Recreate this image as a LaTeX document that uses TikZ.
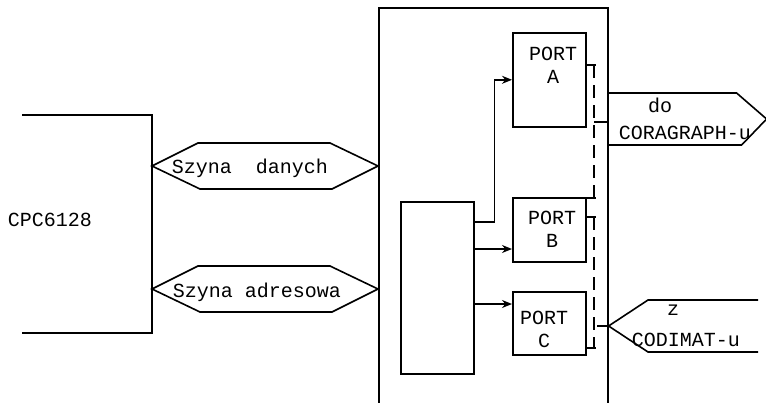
\documentclass[tikz,border=0pt]{standalone}
\usepackage{fontspec}
\setmonofont{Liberation Mono}
\usetikzlibrary{arrows.meta,positioning}
\tikzset{
    unitbox/.style={rectangle,draw,line width=1.6pt,inner sep=0pt},
    porttext/.style={font=\ttfamily\fontsize{20}{23}\selectfont,align=center,inner sep=0pt},
    labeltext/.style={font=\ttfamily\fontsize{20}{23}\selectfont,inner sep=0pt},
    busline/.style={line width=1.6pt,line join=miter},
    portline/.style={-{Stealth[length=10pt,width=8pt]},line width=1.6pt},
    tieline/.style={line width=1.6pt},
    tiedash/.style={line width=1.6pt,dash pattern=on 13pt off 7pt}
}

\begin{document}
\begin{tikzpicture}[x=1pt,y=-1pt]
    \useasboundingbox (0,0) rectangle (766,402);
    % komputer
    \coordinate (cpcNW) at (22,115);
    \coordinate (cpcNE) at (152,115);
    \coordinate (cpcSE) at (152,333);
    \coordinate (cpcSW) at (22,333);
    \draw[tieline] (cpcNW) -- (cpcNE) -- (cpcSE) -- (cpcSW);
    \node[labeltext] (cpc) at (50,220) {CPC6128};
    % uklad wejscia/wyjscia
    \node[unitbox,anchor=north west,minimum width=229pt,minimum height=420pt] (iface) at (378,7) {};
    \node[unitbox,anchor=north west,minimum width=73pt,minimum height=172pt] (ctrl) at (400,201) {};
    \node[unitbox,anchor=north west,minimum width=73pt,minimum height=94pt] (portA) at (512,32) {};
    \node[unitbox,anchor=north west,minimum width=73pt,minimum height=64pt] (portB) at (512,197) {};
    \node[unitbox,anchor=north west,minimum width=73pt,minimum height=63pt] (portC) at (512,291) {};
    \node[porttext] (portAtext) at (553,65) {PORT\\A};
    \node[porttext] (portBtext) at (552,229) {PORT\\B};
    \node[porttext] (portCtext) at (544,329) {PORT\\C};
    % szyny
    \draw[busline] (cpcSE |- 0,166) -- ++(46,-23) -- ++(132,0) -- (iface.west |- 0,166) -- ++(-46,23) -- ++(-132,0) -- cycle;
    \draw[busline] (cpcSE |- 0,289) -- ++(46,-23) -- ++(132,0) -- (iface.west |- 0,289) -- ++(-46,23) -- ++(-132,0) -- cycle;
    \node[labeltext] (dbus) at (250,168) {Szyna\ \ danych};
    \node[labeltext] (abus) at (257,292) {Szyna adresowa};
    % sterowanie portami
    \draw[portline] (ctrl.east |- 0,222) -- ++(20,0) |- (portA.west);
    \draw[portline] (ctrl.east |- 0,249) -- (portB.west |- 0,249);
    \draw[portline] (ctrl.east |- 0,304) -- (portC.west |- 0,304);
    % polaczenia portow
    \draw[tieline] (portA.east |- 0,65) -- ++(9,0);
    \draw[tiedash] (594,65) -- (594,198);
    \draw[tieline] (portB.east |- 0,198) -- ++(9,0);
    \draw[tieline] (594,122) -- (iface.east |- 0,122);
    \draw[tieline] (portB.east |- 0,217) -- ++(9,0);
    \draw[tiedash] (594,217) -- (594,348);
    \draw[tieline] (portC.east |- 0,348) -- ++(9,0);
    \draw[tieline] (597,326) -- (iface.east |- 0,326);
    % wyjscie i wejscie
    \draw[busline] (iface.east |- 0,93) -- ++(128,0) -- ++(30,26) -- ++(-25,26) -- (iface.east |- 0,145);
    \node[labeltext] (doLbl) at (660,105) {do};
    \node[labeltext] (cora) at (685,133) {CORAGRAPH-u};
    \coordinate (codiT) at (758,300);
    \coordinate (codiB) at (758,352);
    \draw[busline] (codiT) -- (648,300) -- (iface.east |- 0,326) -- (648,352) -- (codiB);
    \node[labeltext] (zLbl) at (673,310) {z};
    \node[labeltext] (codi) at (686,340) {CODIMAT-u};
\end{tikzpicture}
\end{document}
